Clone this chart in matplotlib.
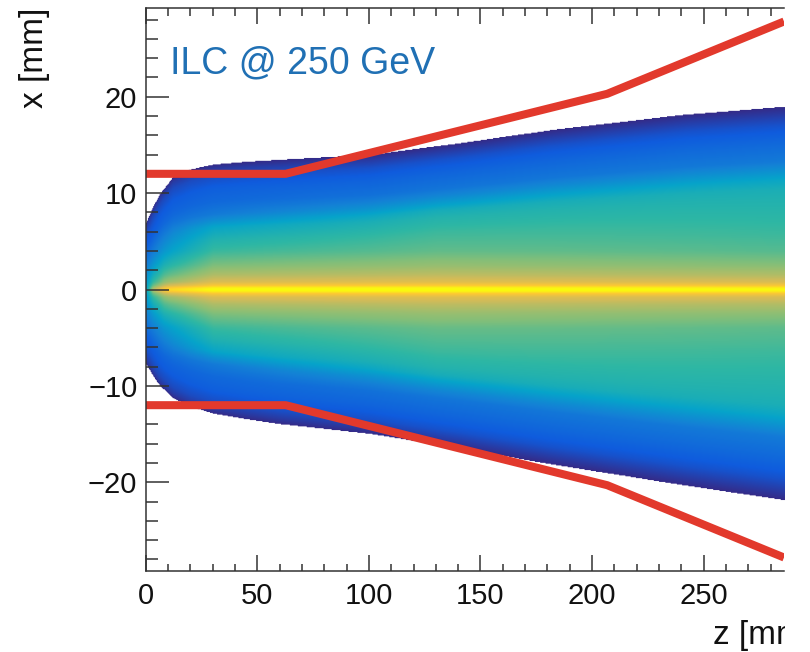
import numpy as np
import matplotlib
matplotlib.use('Agg')
import matplotlib.pyplot as plt
from matplotlib.colors import LinearSegmentedColormap
from matplotlib.patches import Rectangle

# ---------------- data ----------------
# envelope of the hit distribution (x edge in mm vs z in mm)
z_knots = [0, 3, 6, 12, 20, 30, 45, 60, 100, 140, 182, 242, 286]
upper_edge = [7.0, 8.6, 9.9, 11.7, 12.5, 13.0, 13.3, 13.5, 14.0, 15.2, 16.6, 18.2, 19.0]
lower_edge = [-7.8, -9.0, -10.0, -11.3, -12.2, -12.9, -13.5, -14.0, -15.0, -16.5, -18.2, -20.4, -21.9]

# colour level (fraction of the palette) vs relative distance t = x / edge
t_rows = [0.0, 0.1, 0.2, 0.3, 0.4, 0.5, 0.55, 0.6, 0.65, 0.7, 0.8, 0.9, 0.96, 1.0]
profile_z = [0, 8, 30, 130, 286]
level_z0 = [0.38, 0.34, 0.30, 0.26, 0.22, 0.19, 0.17, 0.15, 0.13, 0.12, 0.10, 0.06, 0.03, 0.0]
level_z8 = [0.53, 0.49, 0.44, 0.38, 0.32, 0.26, 0.23, 0.20, 0.17, 0.15, 0.12, 0.08, 0.04, 0.0]
level_z30 = [0.64, 0.61, 0.57, 0.52, 0.46, 0.38, 0.30, 0.23, 0.20, 0.17, 0.14, 0.09, 0.04, 0.0]
level_z130 = [0.65, 0.63, 0.60, 0.56, 0.52, 0.47, 0.43, 0.35, 0.27, 0.21, 0.16, 0.10, 0.04, 0.0]
level_z286 = [0.63, 0.60, 0.56, 0.52, 0.49, 0.46, 0.44, 0.39, 0.31, 0.23, 0.17, 0.10, 0.04, 0.0]

# narrow bright core along x = 0 (added colour level vs |x|)
core_x = [0.0, 0.2, 0.4, 0.8, 1.5, 2.5, 4.0]
core_boost = [0.38, 0.33, 0.24, 0.15, 0.09, 0.04, 0.0]
core_z = [0, 3, 10]
core_strength = [0.0, 0.7, 1.0]

# beam pipe outline (red)
pipe_z = [0, 62.7, 206.8, 286]
pipe_r = [12.0, 12.0, 20.3, 27.8]

x_ticks = [0, 50, 100, 150, 200, 250]
y_ticks = [-20, -10, 0, 10, 20]
z_range = (0, 286)
x_range = (-29.2, 29.2)

# ---------------- palette (ROOT kBird) ----------------
bird_stops = [0.0, 0.125, 0.25, 0.375, 0.5, 0.625, 0.75, 0.875, 1.0]
bird_r = [0.2082, 0.0592, 0.0780, 0.0232, 0.1802, 0.5301, 0.8186, 0.9956, 0.9764]
bird_g = [0.1664, 0.3599, 0.5041, 0.6419, 0.7178, 0.7492, 0.7328, 0.7862, 0.9832]
bird_b = [0.5293, 0.8684, 0.8385, 0.7914, 0.6425, 0.4662, 0.3499, 0.1968, 0.0539]
bird = LinearSegmentedColormap.from_list(
    'bird', list(zip(bird_stops, zip(bird_r, bird_g, bird_b))), N=512)
bird.set_bad((1, 1, 1, 0))

# ---------------- build the 2D histogram ----------------
nz, nx = 720, 620
zc = np.linspace(z_range[0], z_range[1], nz)
xc = np.linspace(x_range[0], x_range[1], nx)
Z, X = np.meshgrid(zc, xc)
up = np.interp(zc, z_knots, upper_edge)
lo = np.interp(zc, z_knots, lower_edge)
T = np.where(X >= 0, X / up[None, :], X / lo[None, :])

P = np.array([level_z0, level_z8, level_z30, level_z130, level_z286])
prof_cols = np.stack([np.interp(zc, profile_z, P[:, j]) for j in range(len(t_rows))], axis=1)
prof = np.empty_like(T)
for i in range(nz):
    prof[:, i] = np.interp(T[:, i], t_rows, prof_cols[i])
boost = np.interp(np.abs(X), core_x, core_boost)
s = np.interp(Z, core_z, core_strength)
level = np.clip(prof + s * boost, 0, 1)
level = np.ma.masked_where(T > 1.0, level)

# ---------------- figure ----------------
plt.rcParams['font.family'] = ['Liberation Sans', 'DejaVu Sans']
fig = plt.figure(figsize=(8.10, 6.52), dpi=100)
L, R, B, TOP = 145.7 / 810, 784 / 810, 1 - 571 / 652, 1 - 8 / 652
ax = fig.add_axes([L, B, R - L, TOP - B])

ax.imshow(level, extent=[z_range[0], z_range[1], x_range[0], x_range[1]],
          origin='lower', aspect='auto', cmap=bird, vmin=0, vmax=1,
          interpolation='bilinear', zorder=1)

red = '#e2392c'
ax.plot(pipe_z, pipe_r, color=red, lw=5.8, solid_capstyle='butt', zorder=3)
ax.plot(pipe_z, [-r for r in pipe_r], color=red, lw=5.8, solid_capstyle='butt', zorder=3)

ax.set_xlim(*z_range)
ax.set_ylim(*x_range)
ax.set_xticks(x_ticks)
ax.set_yticks(y_ticks)
ax.set_xticks(np.arange(0, 287, 10), minor=True)
ax.set_yticks(np.arange(-28, 29, 2), minor=True)

spine_c = '#333333'
for side in ['left', 'bottom', 'top']:
    ax.spines[side].set_color(spine_c)
    ax.spines[side].set_linewidth(1.1)
    ax.spines[side].set_zorder(5)
ax.spines['right'].set_visible(False)

ax.tick_params(axis='x', which='both', direction='in', top=True, bottom=True,
               color=spine_c, width=1.1, labelsize=21, pad=8)
ax.tick_params(axis='x', which='major', length=11.5)
ax.tick_params(axis='x', which='minor', length=5.4)
ax.tick_params(axis='y', which='both', direction='in', left=True, right=False,
               color=spine_c, width=1.1, labelsize=21, pad=6)
ax.tick_params(axis='y', which='major', length=16.5)
ax.tick_params(axis='y', which='minor', length=8.6)
for lab in ax.get_xticklabels() + ax.get_yticklabels():
    lab.set_color('#111111')

fig.text(170 / 810, 1 - 73 / 652, 'ILC @ 250 GeV', color='#2070b4',
         fontsize=27, ha='left', va='baseline')
fig.text(34 / 810, 1 - 8 / 652, 'x [mm]', rotation=90, fontsize=24,
         ha='center', va='top', color='#111111')
fig.text(713 / 810, 1 - 644 / 652, 'z [mm]', fontsize=24, ha='left',
         va='baseline', color='#111111')
fig.patches.append(Rectangle((785 / 810, 0), 25 / 810, 1, transform=fig.transFigure,
                             facecolor='white', edgecolor='none', zorder=10))

fig.savefig('out.png', dpi=100, facecolor='white')
